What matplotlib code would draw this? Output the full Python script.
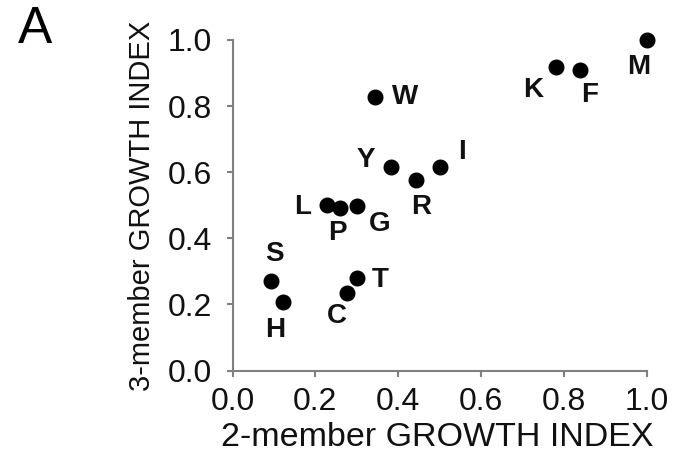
import matplotlib
matplotlib.use("Agg")
import matplotlib.pyplot as plt

plt.rcParams['font.family'] = ['Liberation Sans', 'DejaVu Sans']

labels = ['M', 'K', 'F', 'W', 'Y', 'I', 'R', 'L', 'P', 'G', 'S', 'H', 'T', 'C']
x2 = [1.00, 0.781, 0.839, 0.344, 0.382, 0.501, 0.443, 0.227, 0.259, 0.300, 0.092, 0.121, 0.300, 0.277]
y3 = [1.00, 0.917, 0.909, 0.829, 0.617, 0.617, 0.577, 0.501, 0.491, 0.498, 0.272, 0.209, 0.281, 0.234]
ticks = [0.0, 0.2, 0.4, 0.6, 0.8, 1.0]
tick_labels = ['0.0', '0.2', '0.4', '0.6', '0.8', '1.0']

# label offsets in pixels (dx right, dy up)
offsets = {
    'M': (-8, -27), 'K': (-23, -23), 'F': (10, -25), 'W': (30, 0),
    'Y': (-25, 7), 'I': (22, 15), 'R': (5, -27), 'L': (-24, -2),
    'P': (-2, -25), 'G': (23, -18), 'S': (4, 27), 'H': (-7, -28),
    'T': (23, -2), 'C': (-10, -23),
}

fig = plt.figure(figsize=(6.84, 4.57), dpi=100)
ax = fig.add_axes([0.340, 0.189, 0.6055, 0.7235])

order = [i for i in range(len(labels)) if labels[i] == 'P'] + [i for i in range(len(labels)) if labels[i] != 'P']
for i in order:
    ax.plot(x2[i], y3[i], 'o', color='black', markersize=10.5, clip_on=False, zorder=3)

for lab, xv, yv in zip(labels, x2, y3):
    dx, dy = offsets[lab]
    ax.annotate(lab, (xv, yv), xytext=(dx, dy), textcoords='offset pixels',
                ha='center', va='center', fontsize=20, fontweight='bold', color='#111111')

ax.set_xlim(0, 1)
ax.set_ylim(0, 1)
ax.set_xticks(ticks)
ax.set_xticklabels(tick_labels)
ax.set_yticks(ticks)
ax.set_yticklabels(tick_labels)
for s in ['top', 'right']:
    ax.spines[s].set_visible(False)
for s in ['left', 'bottom']:
    ax.spines[s].set_color('#808080')
    ax.spines[s].set_linewidth(1.5)
ax.tick_params(axis='both', which='major', direction='out', length=4, width=1.5,
               color='#808080', labelsize=23, labelcolor='#111111')
ax.tick_params(axis='y', pad=11)
ax.tick_params(axis='x', pad=8)

ax.set_xlabel('2-member GROWTH INDEX', fontsize=24.5, color='#111111')
ax.xaxis.set_label_coords(0.495, -0.2035)
ax.xaxis.label.set_verticalalignment('center')
ax.set_ylabel('3-member GROWTH INDEX', fontsize=21, color='#111111')
ax.yaxis.set_label_coords(-0.219, 0.498)
ax.yaxis.label.set_verticalalignment('center')

fig.text(0.026, 1 - 43 / 457, 'A', fontsize=37, color='black', ha='left', va='baseline')

fig.savefig('out.png', dpi=100)
